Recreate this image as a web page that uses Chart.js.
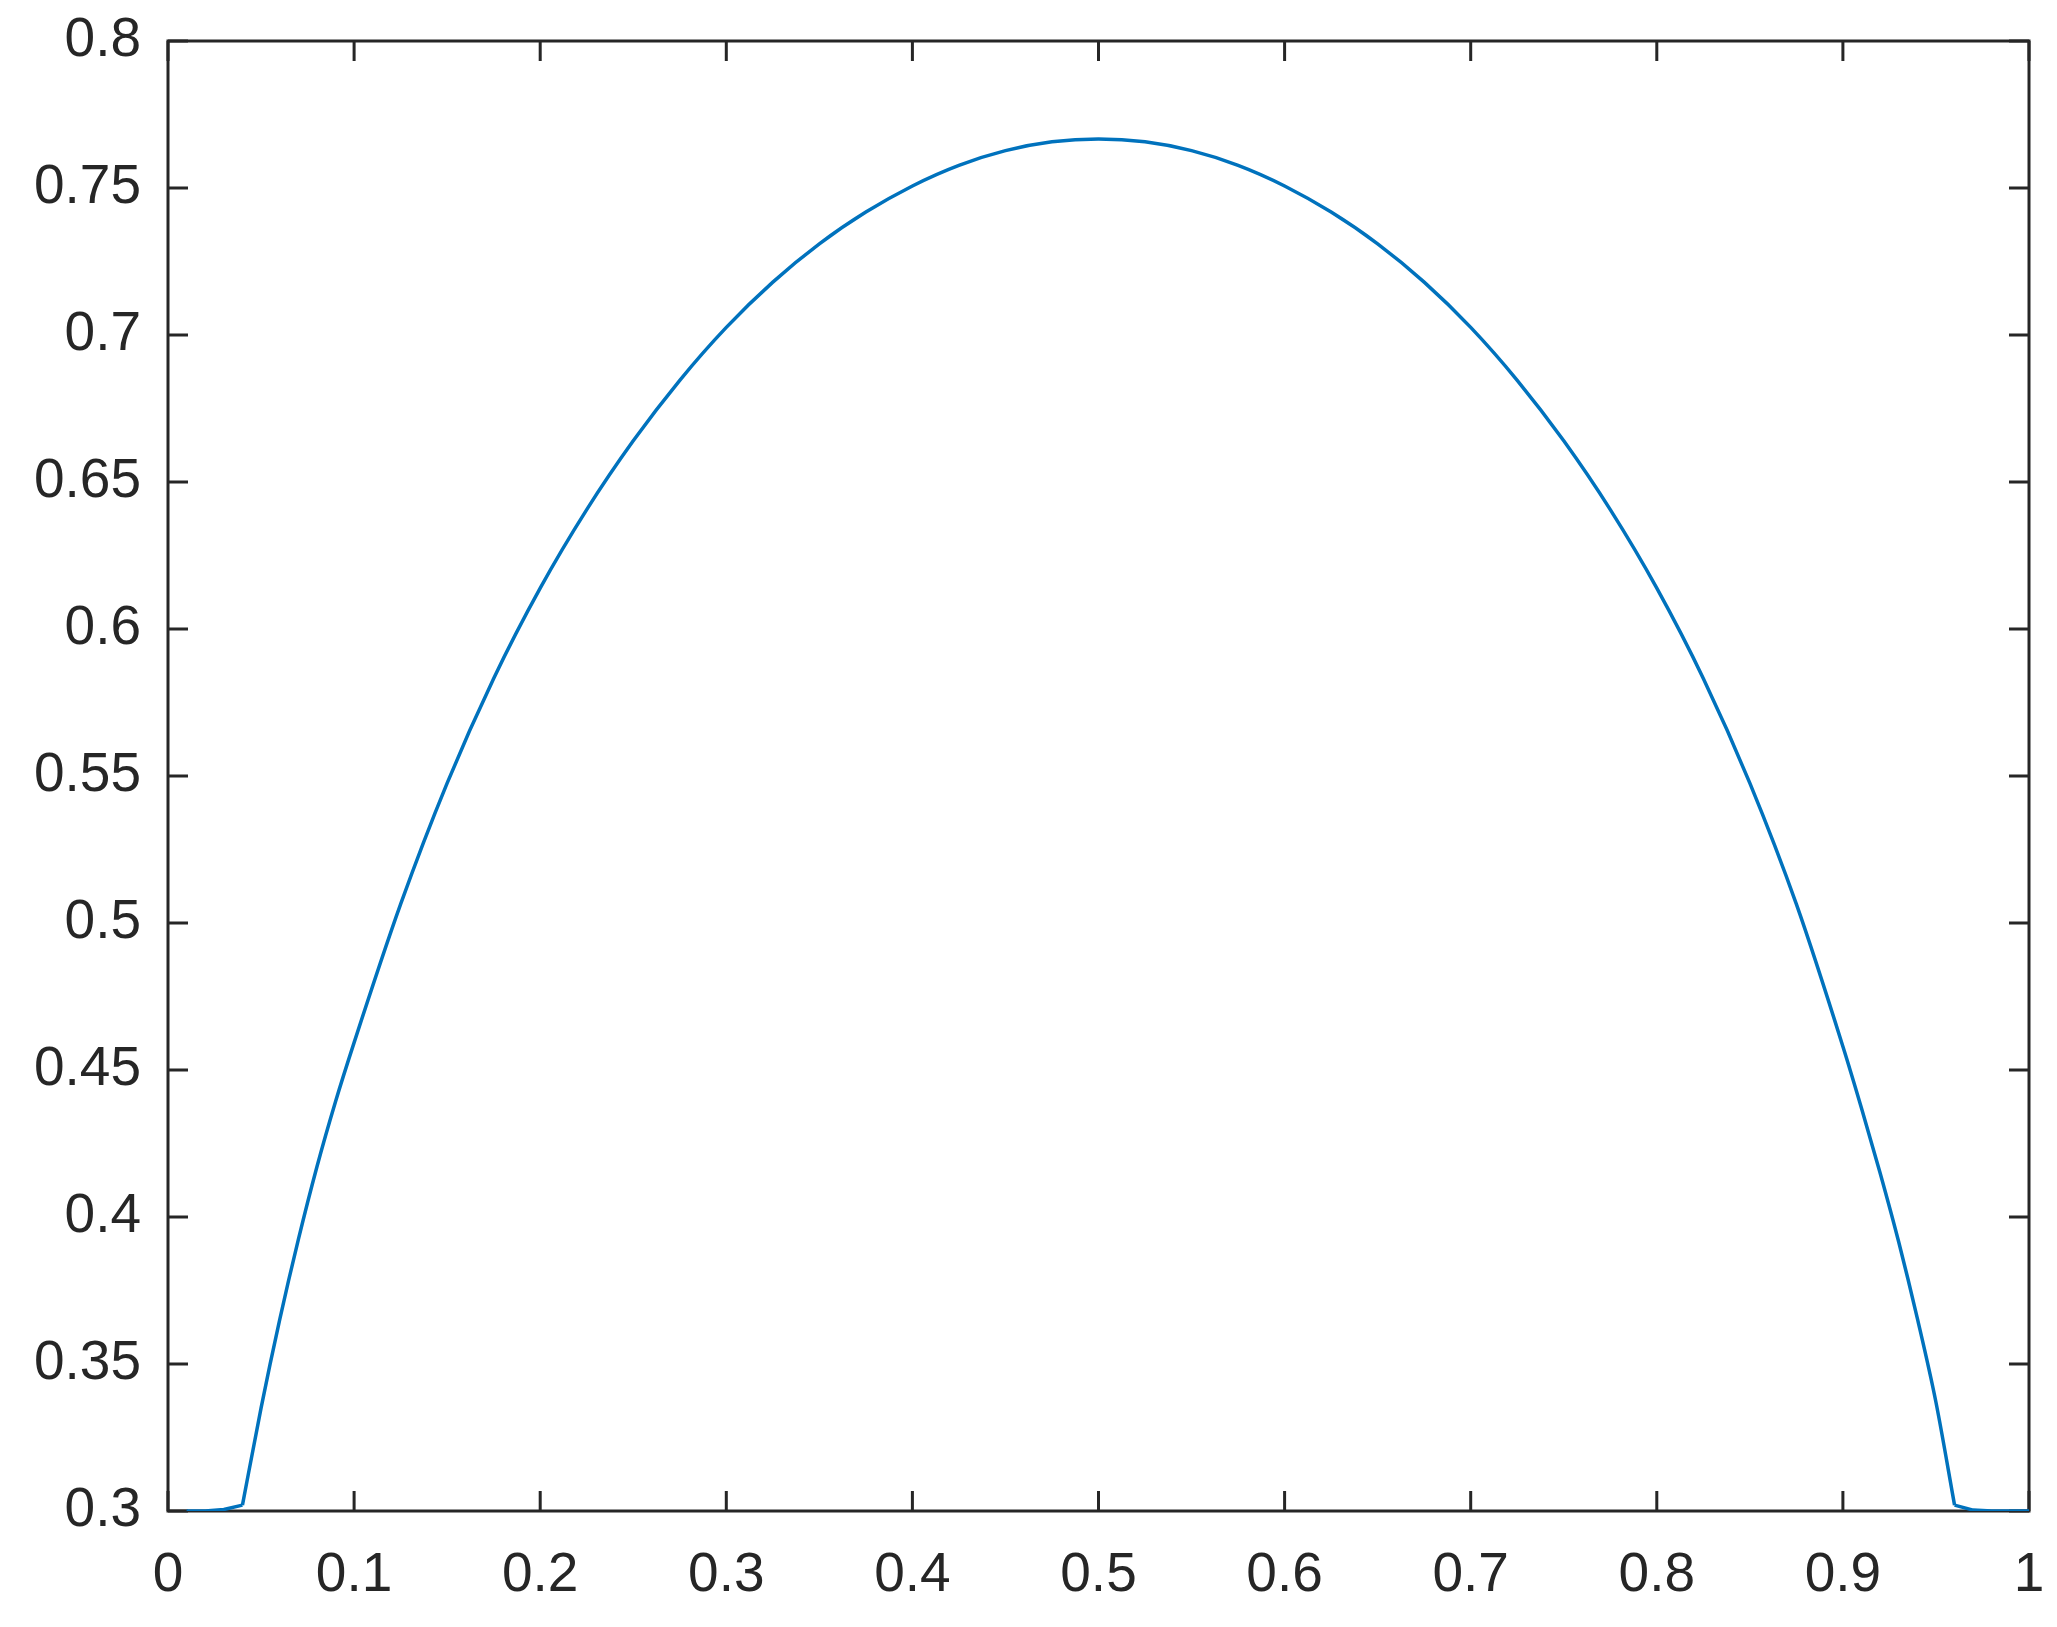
<!DOCTYPE html>
<html>
<head>
<meta charset="utf-8">
<script src="https://cdn.jsdelivr.net/npm/chart.js@4.4.1/dist/chart.umd.min.js"></script>
<style>
  html, body { margin: 0; padding: 0; background: #fff; }
  #wrap { width: 2057px; height: 1627px; position: relative; }
</style>
</head>
<body>
<div id="wrap"><canvas id="chart"></canvas></div>
<script>
/* Data */
const xValues = [0.01, 0.02, 0.03, 0.04, 0.05, 0.06, 0.07, 0.08, 0.09, 0.10,
    0.125, 0.15, 0.175, 0.2, 0.225, 0.25, 0.275, 0.3, 0.325, 0.35, 0.375, 0.4, 0.425, 0.45, 0.475,
    0.5,
    0.525, 0.55, 0.575, 0.6, 0.625, 0.65, 0.675, 0.7, 0.725, 0.75, 0.775, 0.8, 0.825, 0.85, 0.875,
    0.90, 0.91, 0.92, 0.93, 0.94, 0.95, 0.96, 0.97, 0.98, 0.99, 1.0];
const yValues = [0.300, 0.300, 0.3005, 0.302, 0.335, 0.365, 0.3922, 0.417, 0.4392, 0.4593,
    0.5064, 0.5476, 0.5832, 0.6139, 0.6406, 0.664, 0.6846, 0.7026, 0.718, 0.731, 0.7418, 0.7507, 0.7577, 0.7627, 0.7657,
    0.7667,
    0.7657, 0.7627, 0.7577, 0.7507, 0.7418, 0.731, 0.718, 0.7026, 0.6846, 0.664, 0.6406, 0.6139, 0.5832, 0.5476, 0.5064,
    0.458, 0.437, 0.415, 0.3915, 0.3655, 0.337, 0.302, 0.3003, 0.300, 0.300, 0.300];

// the flat feet at both ends are drawn straight, the arch smooth
const footLeft = 0.04;
const footRight = 0.96;

const xTicks = [0, 0.1, 0.2, 0.3, 0.4, 0.5, 0.6, 0.7, 0.8, 0.9, 1];
const xTickLabels = ["0", "0.1", "0.2", "0.3", "0.4", "0.5", "0.6", "0.7", "0.8", "0.9", "1"];
const yTicks = [0.3, 0.35, 0.4, 0.45, 0.5, 0.55, 0.6, 0.65, 0.7, 0.75, 0.8];
const yTickLabels = ["0.3", "0.35", "0.4", "0.45", "0.5", "0.55", "0.6", "0.65", "0.7", "0.75", "0.8"];

/* Styles */
const lineColor = "#0072BD";
const axisColor = "#262626";
const tickLen = 20;

const points = xValues.map(function(v, i){ return {x: v, y: yValues[i]}; });
const arch = points.filter(function(p){ return p.x >= footLeft - 1e-9 && p.x <= footRight + 1e-9; });
const feet = points.filter(function(p){ return p.x <= footLeft + 1e-9; })
    .concat([{x: 0.5, y: null}])
    .concat(points.filter(function(p){ return p.x >= footRight - 1e-9; }));

// box round the plot + inward ticks on all four sides
const boxPlugin = {
    id: "box",
    beforeDatasetsDraw(chart) {
        const ctx = chart.ctx;
        const a = chart.chartArea;
        const x = chart.scales.x;
        const y = chart.scales.y;
        ctx.save();
        ctx.strokeStyle = axisColor;
        ctx.lineWidth = 3;
        ctx.beginPath();
        x.ticks.forEach(function(t){
            const px = x.getPixelForValue(t.value);
            ctx.moveTo(px, a.bottom); ctx.lineTo(px, a.bottom - tickLen);
            ctx.moveTo(px, a.top); ctx.lineTo(px, a.top + tickLen);
        });
        y.ticks.forEach(function(t){
            const py = y.getPixelForValue(t.value);
            ctx.moveTo(a.left, py); ctx.lineTo(a.left + tickLen, py);
            ctx.moveTo(a.right, py); ctx.lineTo(a.right - tickLen, py);
        });
        ctx.stroke();
        ctx.strokeRect(a.left, a.top, a.right - a.left, a.bottom - a.top);
        ctx.restore();
    }
};

Chart.defaults.font.family = "'Liberation Sans', Arial, sans-serif";
Chart.defaults.color = axisColor;

new Chart(document.getElementById("chart"), {
    type: "line",
    data: {
        datasets: [{
            data: arch,
            borderColor: lineColor,
            borderWidth: 3.5,
            pointRadius: 0,
            fill: false,
            cubicInterpolationMode: "monotone"
        }, {
            data: feet,
            borderColor: lineColor,
            borderWidth: 3.5,
            pointRadius: 0,
            fill: false,
            tension: 0,
            spanGaps: false
        }]
    },
    options: {
        responsive: true,
        maintainAspectRatio: false,
        animation: false,
        devicePixelRatio: 1,
        layout: { padding: { top: 41, right: 28, left: 0, bottom: 0 } },
        plugins: {
            legend: { display: false },
            tooltip: { enabled: false }
        },
        scales: {
            x: {
                type: "linear",
                min: 0,
                max: 1,
                afterBuildTicks: function(scale){
                    scale.ticks = xTicks.map(function(v){ return {value: v}; });
                },
                afterFit: function(scale){
                    scale.height = 116;
                    scale.paddingLeft = 0;
                    scale.paddingRight = 0;
                },
                grid: { display: false, drawTicks: false },
                border: { display: false },
                ticks: {
                    autoSkip: false,
                    maxRotation: 0,
                    padding: 32,
                    font: { size: 55 },
                    color: axisColor,
                    callback: function(value, index){ return xTickLabels[index]; }
                }
            },
            y: {
                type: "linear",
                min: 0.3,
                max: 0.8,
                afterBuildTicks: function(scale){
                    scale.ticks = yTicks.map(function(v){ return {value: v}; });
                },
                afterFit: function(scale){
                    scale.width = 168;
                    scale.paddingTop = 0;
                    scale.paddingBottom = 0;
                },
                grid: { display: false, drawTicks: false },
                border: { display: false },
                ticks: {
                    autoSkip: false,
                    padding: 27,
                    font: { size: 55 },
                    color: axisColor,
                    callback: function(value, index){ return yTickLabels[index]; }
                }
            }
        }
    },
    plugins: [boxPlugin]
});
</script>
</body>
</html>
